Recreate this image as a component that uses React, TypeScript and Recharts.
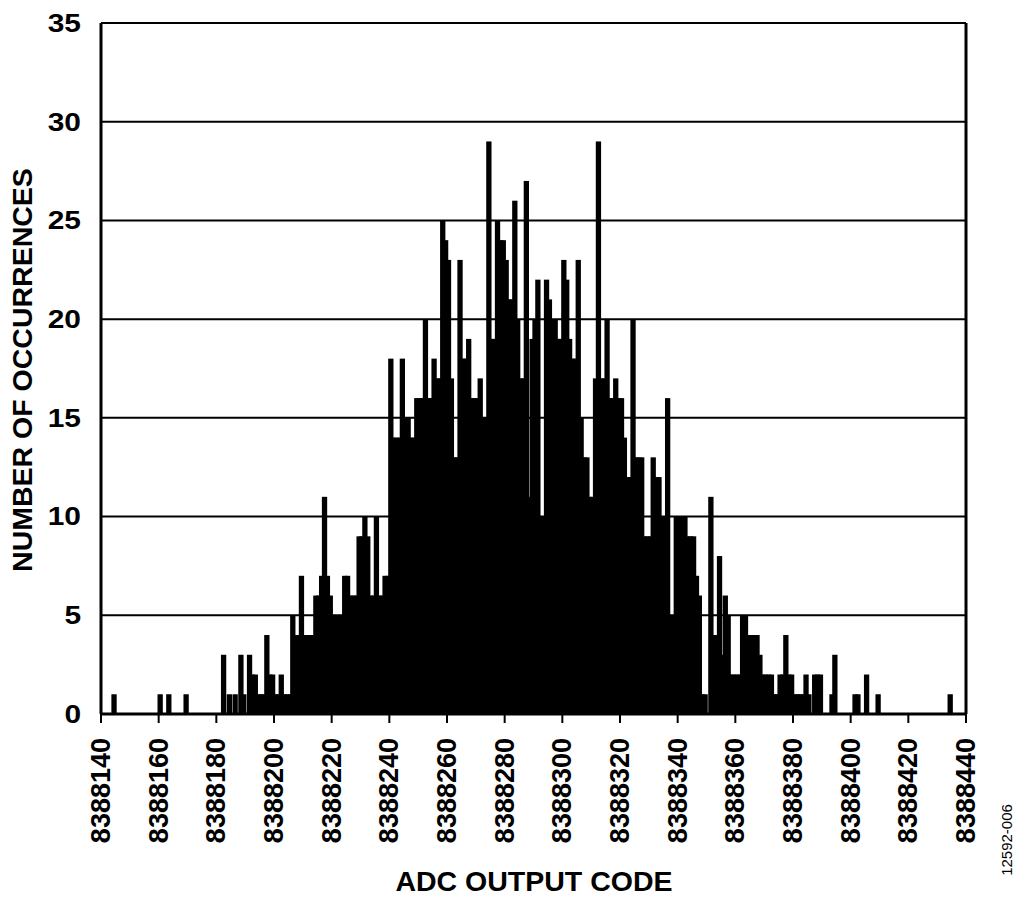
import { BarChart, Bar, XAxis, YAxis, CartesianGrid, ReferenceLine } from 'recharts';

// ADC output codes (lower edge of each 1-code bin) and how often each occurred
const codes = [
  8388144, 8388160, 8388163, 8388169,
  8388182, 8388184, 8388186, 8388188, 8388189, 8388191, 8388192, 8388193, 8388194, 8388195,
  8388196, 8388197, 8388198, 8388199, 8388200, 8388201, 8388202, 8388203, 8388204, 8388205,
  8388206, 8388207, 8388208, 8388209, 8388210, 8388211, 8388212, 8388213, 8388214, 8388215,
  8388216, 8388217, 8388218, 8388219, 8388220, 8388221, 8388222, 8388223, 8388224, 8388225,
  8388226, 8388227, 8388228, 8388229, 8388230, 8388231, 8388232, 8388233, 8388234, 8388235,
  8388236, 8388237, 8388238, 8388239, 8388240, 8388241, 8388242, 8388243, 8388244, 8388245,
  8388246, 8388247, 8388248, 8388249, 8388250, 8388251, 8388252, 8388253, 8388254, 8388255,
  8388256, 8388257, 8388258, 8388259, 8388260, 8388261, 8388262, 8388263, 8388264, 8388265,
  8388266, 8388267, 8388268, 8388269, 8388270, 8388271, 8388272, 8388273, 8388274, 8388275,
  8388276, 8388277, 8388278, 8388279, 8388280, 8388281, 8388282, 8388283, 8388284, 8388285,
  8388286, 8388287, 8388288, 8388289, 8388290, 8388291, 8388292, 8388293, 8388294, 8388295,
  8388296, 8388297, 8388298, 8388299, 8388300, 8388301, 8388302, 8388303, 8388304, 8388305,
  8388306, 8388307, 8388308, 8388309, 8388310, 8388311, 8388312, 8388313, 8388314, 8388315,
  8388316, 8388317, 8388318, 8388319, 8388320, 8388321, 8388322, 8388323, 8388324, 8388325,
  8388326, 8388327, 8388328, 8388329, 8388330, 8388331, 8388332, 8388333, 8388334, 8388335,
  8388336, 8388337, 8388338, 8388339, 8388340, 8388341, 8388342, 8388343, 8388344, 8388345,
  8388346, 8388347, 8388348, 8388349, 8388351, 8388352, 8388353, 8388354, 8388355, 8388356,
  8388357, 8388358, 8388359, 8388360, 8388361, 8388362, 8388363, 8388364, 8388365, 8388366,
  8388367, 8388368, 8388369, 8388370, 8388371, 8388372, 8388373, 8388374, 8388375, 8388376,
  8388377, 8388378, 8388379, 8388380, 8388381, 8388382, 8388383, 8388384, 8388385, 8388387,
  8388388, 8388389, 8388393, 8388394, 8388401, 8388402, 8388405, 8388409, 8388434,
];

const counts = [
  1, 1, 1, 1,
  3, 1, 1, 3, 1, 3, 2, 2, 1, 1,
  1, 4, 2, 2, 1, 1, 2, 1, 1, 1,
  5, 4, 4, 7, 4, 4, 4, 4, 6, 6,
  7, 11, 7, 6, 5, 5, 5, 5, 7, 7,
  6, 6, 6, 9, 9, 10, 9, 6, 6, 10,
  6, 6, 7, 7, 18, 14, 14, 14, 18, 15,
  15, 14, 14, 16, 16, 16, 20, 16, 16, 18,
  17, 17, 25, 24, 23, 17, 13, 13, 23, 18,
  18, 19, 16, 16, 16, 17, 15, 15, 29, 19,
  19, 25, 24, 24, 23, 21, 21, 26, 20, 17,
  17, 27, 11, 19, 20, 22, 10, 10, 22, 21,
  20, 20, 19, 19, 23, 22, 19, 18, 18, 23,
  15, 13, 13, 11, 11, 17, 29, 17, 17, 20,
  16, 16, 17, 16, 16, 14, 12, 12, 20, 13,
  13, 13, 9, 9, 9, 13, 12, 12, 10, 10,
  16, 5, 5, 10, 10, 10, 10, 9, 9, 9,
  7, 6, 1, 1, 11, 4, 4, 8, 3, 6,
  5, 2, 2, 2, 2, 5, 5, 4, 4, 4,
  4, 3, 2, 2, 2, 2, 1, 1, 2, 2,
  4, 2, 2, 1, 1, 1, 1, 2, 1, 2,
  2, 2, 1, 3, 1, 1, 2, 1, 1,
];

const xTicks = [
  8388140, 8388160, 8388180, 8388200, 8388220, 8388240, 8388260, 8388280,
  8388300, 8388320, 8388340, 8388360, 8388380, 8388400, 8388420, 8388440,
];
const yTicks = [0, 5, 10, 15, 20, 25, 30, 35];

// each bar sits in the middle of its 1-code bin
const rows = codes.map((c, i) => ({ bin: c + 0.5, count: counts[i] }));

const FONT = '"Liberation Sans", Arial, Helvetica, sans-serif';
const BAR_W = 5.3;

function CodeTick(props: any) {
  const { x, y, payload } = props;
  return (
    <text
      x={x}
      y={y}
      transform={`rotate(-90 ${x} ${y})`}
      textAnchor="end"
      dominantBaseline="central"
      fontSize={27}
      fontWeight="bold"
      fontFamily={FONT}
      fill="#000"
    >
      {payload.value}
    </text>
  );
}

function CountTick(props: any) {
  const { x, y, payload } = props;
  return (
    <text
      transform={`translate(${x} ${y}) scale(1.15 1)`}
      textAnchor="end"
      dominantBaseline="central"
      fontSize={26}
      fontWeight="bold"
      fontFamily={FONT}
      fill="#000"
    >
      {payload.value}
    </text>
  );
}

// the original columns are wider than one code and overlap their neighbours
function WideBar(props: any) {
  const { x, y, width, height } = props;
  if (!height || height <= 0) return null;
  const cx = x + width / 2;
  return <rect x={cx - BAR_W / 2} y={y} width={BAR_W} height={height} fill="#000" />;
}

export default function App() {
  return (
    <div
      style={{
        position: 'absolute',
        left: 0,
        top: 0,
        width: 1024,
        height: 904,
        background: '#fff',
        fontFamily: FONT,
      }}
    >
      <BarChart
        width={1024}
        height={904}
        data={rows}
        margin={{ top: 23, right: 58, bottom: 40, left: 11 }}
        barGap={0}
        barCategoryGap={0}
      >
        <CartesianGrid vertical={false} stroke="#000" strokeWidth={2} />
        <XAxis
          type="number"
          dataKey="bin"
          domain={[8388140, 8388440]}
          ticks={xTicks}
          interval={0}
          allowDataOverflow
          height={150}
          tickSize={9}
          tickMargin={15}
          tickLine={{ stroke: '#000', strokeWidth: 2 }}
          axisLine={{ stroke: '#000', strokeWidth: 3 }}
          tick={<CodeTick />}
        />
        <YAxis
          type="number"
          domain={[0, 35]}
          ticks={yTicks}
          interval={0}
          width={90}
          tickSize={8}
          tickMargin={12}
          tickLine={false}
          axisLine={{ stroke: '#000', strokeWidth: 3 }}
          tick={<CountTick />}
        />
        <ReferenceLine x={8388440} stroke="#000" strokeWidth={3} ifOverflow="visible" />
        <Bar dataKey="count" fill="#000" shape={<WideBar />} isAnimationActive={false} />
      </BarChart>

      <div
        style={{
          position: 'absolute',
          left: 22,
          top: 370,
          transform: 'translate(-50%, -50%) rotate(-90deg)',
          whiteSpace: 'nowrap',
          fontSize: 28.5,
          fontWeight: 'bold',
          color: '#000',
        }}
      >
        NUMBER OF OCCURRENCES
      </div>
      <div
        style={{
          position: 'absolute',
          left: 534,
          top: 881,
          transform: 'translate(-50%, -50%)',
          whiteSpace: 'nowrap',
          fontSize: 28.5,
          fontWeight: 'bold',
          color: '#000',
        }}
      >
        ADC OUTPUT CODE
      </div>
      <div
        style={{
          position: 'absolute',
          left: 1006,
          top: 840,
          transform: 'translate(-50%, -50%) rotate(-90deg)',
          whiteSpace: 'nowrap',
          fontSize: 15,
          color: '#000',
        }}
      >
        12592-006
      </div>
    </div>
  );
}
